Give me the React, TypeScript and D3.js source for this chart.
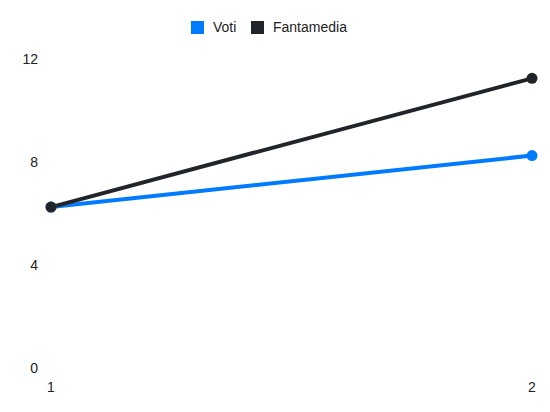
import { useEffect, useRef } from 'react';
import * as d3 from 'd3';

const labels = ['1', '2'];
const voti = [6.25, 8.25];
const fantamedia = [6.25, 11.25];
const yTicks = [0, 4, 8, 12];

const series = [
  { name: 'Voti', values: voti, color: '#007bff' },
  { name: 'Fantamedia', values: fantamedia, color: '#212529' },
];

export default function App() {
  const svgRef = useRef<SVGSVGElement>(null);
  const width = 550;
  const height = 412;

  useEffect(() => {
    if (!svgRef.current) return;
    const svg = d3.select(svgRef.current);
    svg.selectAll('*').remove();

    const font = "'Liberation Sans', Arial, Helvetica, sans-serif";

    const x = d3.scalePoint<string>()
      .domain(labels)
      .range([51, 532]);

    const y = d3.scaleLinear()
      .domain([0, 12])
      .range([368, 59]);

    // y tick labels
    svg.append('g')
      .selectAll('text')
      .data(yTicks)
      .enter().append('text')
      .attr('x', 38)
      .attr('y', d => y(d))
      .attr('dy', '0.35em')
      .attr('text-anchor', 'end')
      .attr('font-family', font)
      .attr('font-size', 14)
      .attr('fill', '#222')
      .text(d => d);

    // x tick labels
    svg.append('g')
      .selectAll('text')
      .data(labels)
      .enter().append('text')
      .attr('x', d => x(d)!)
      .attr('y', 387)
      .attr('dy', '0.35em')
      .attr('text-anchor', 'middle')
      .attr('font-family', font)
      .attr('font-size', 14)
      .attr('fill', '#222')
      .text(d => d);

    const line = d3.line<number>()
      .x((_, i) => x(labels[i])!)
      .y(d => y(d));

    series.forEach(s => {
      svg.append('path')
        .datum(s.values)
        .attr('d', line)
        .attr('fill', 'none')
        .attr('stroke', s.color)
        .attr('stroke-width', 4);
    });

    series.forEach(s => {
      svg.append('g')
        .selectAll('circle')
        .data(s.values)
        .enter().append('circle')
        .attr('cx', (_, i) => x(labels[i])!)
        .attr('cy', d => y(d))
        .attr('r', 5.5)
        .attr('fill', s.color);
    });

    // legend
    const legendX = [191, 251];
    const lg = svg.append('g');
    series.forEach((s, i) => {
      lg.append('rect')
        .attr('x', legendX[i])
        .attr('y', 21)
        .attr('width', 13)
        .attr('height', 13)
        .attr('fill', s.color);
      lg.append('text')
        .attr('x', legendX[i] + 22)
        .attr('y', 27.5)
        .attr('dy', '0.35em')
        .attr('font-family', font)
        .attr('font-size', 14)
        .attr('fill', '#222')
        .text(s.name);
    });
  }, []);

  return (
    <svg
      ref={svgRef}
      width={width}
      height={height}
      style={{ position: 'absolute', left: 0, top: 0, background: '#fff' }}
    />
  );
}
